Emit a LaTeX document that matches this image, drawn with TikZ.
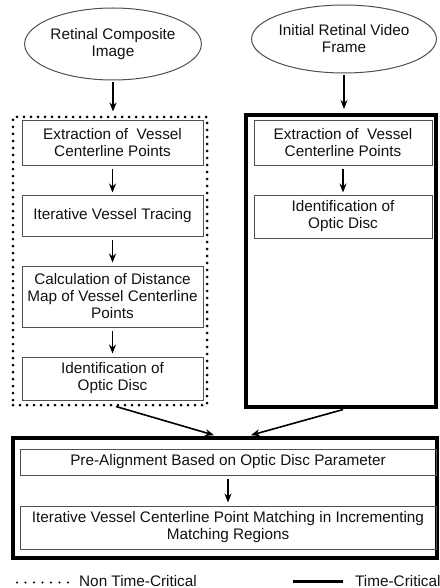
\documentclass[tikz,border=0pt]{standalone}
\usepackage{fontspec}
\setmainfont{Liberation Sans}
\usetikzlibrary{arrows.meta,shapes.geometric}
\definecolor{boxline}{HTML}{505050}
\definecolor{txt}{HTML}{111111}
\tikzset{
  procbox/.style={draw=boxline, line width=1pt, rectangle, align=center, inner sep=0pt,
    font=\fontsize{15.3}{17}\selectfont, text=txt},
  inputell/.style={draw=boxline, line width=1pt, ellipse, align=center, inner sep=0pt,
    font=\fontsize{15.3}{17}\selectfont, text=txt},
  dotframe/.style={draw=black, line width=3pt, line cap=round, dash pattern=on 0pt off 7pt, rectangle, inner sep=0pt},
  thickframe/.style={draw=black, line width=4pt, rectangle, inner sep=0pt},
  flow/.style={-{Stealth[length=9pt,width=7pt]}, line width=1.6pt, black},
  legtext/.style={font=\fontsize{15.3}{17}\selectfont, text=txt, anchor=base west, inner sep=0pt}
}
\begin{document}
\begin{tikzpicture}[x=1pt,y=-1pt]
\useasboundingbox (0,0) rectangle (439,588);
% input ellipses
\node[inputell, minimum width=174, minimum height=72] (le) at (113,44) {Retinal Composite\\Image};
\node[inputell, minimum width=176, minimum height=68] (re) at (344,39) {Initial Retinal Video\\Frame};
% containers
\node[dotframe, minimum width=194, minimum height=288] (lc) at (110,261) {};
\node[thickframe, minimum width=190, minimum height=292] (rc) at (341,261) {};
\node[thickframe, minimum width=424, minimum height=120] (bc) at (225,498) {};
% left column
\node[procbox, minimum width=181, minimum height=44] (l1) at (112.5,143) {Extraction of~ Vessel\\Centerline Points};
\node[procbox, minimum width=181, minimum height=41] (l2) at (112.5,215.5) {Iterative Vessel Tracing};
\node[procbox, minimum width=181, minimum height=61] (l3) at (112.5,296.5) {Calculation of Distance\\Map of Vessel Centerline\\Points};
\node[procbox, minimum width=181, minimum height=43] (l4) at (112.5,378.5) {Identification of\\Optic Disc};
% right column
\node[procbox, minimum width=178, minimum height=44] (r1) at (343,143) {Extraction of~ Vessel\\Centerline Points};
\node[procbox, minimum width=178, minimum height=43] (r2) at (343,216.5) {Identification of\\Optic Disc};
% bottom
\node[procbox, minimum width=416, minimum height=26] (p) at (228,462) {Pre-Alignment Based on Optic Disc Parameter};
\node[procbox, minimum width=416, minimum height=43] (m) at (228,527.5) {Iterative Vessel Centerline Point Matching in Incrementing\\Matching Regions};
% arrows
\draw[flow, shorten <=2pt, shorten >=4pt] (le.south) -- (le.south |- lc.north);
\draw[flow, shorten <=2pt, shorten >=4pt] (re.south) -- (re.south |- rc.north);
\draw[flow, shorten <=3pt, shorten >=2pt] (l1) -- (l2);
\draw[flow, shorten <=3pt, shorten >=3pt] (l2) -- (l3);
\draw[flow, shorten <=3pt, shorten >=3pt] (l3) -- (l4);
\draw[flow, shorten <=3pt, shorten >=2pt] (r1) -- (r2);
\draw[flow, shorten <=3pt, shorten >=3pt] (p) -- (m);
\draw[flow, shorten >=3pt] ([xshift=6pt]lc.south) -- ([xshift=-8pt]bc.north);
\draw[flow, shorten <=2pt, shorten >=3pt] ([xshift=4pt]rc.south) -- ([xshift=23pt]bc.north);
% legend
\coordinate (d1) at (17,582.5);
\coordinate (d2) at (68,582.5);
\draw[line width=2.4pt, line cap=round, dash pattern=on 0pt off 8.5pt] (d1) -- (d2);
\node[legtext] (nt) at (79,586) {Non Time-Critical};
\coordinate (s1) at (293,581);
\coordinate (s2) at (343,581);
\draw[line width=3pt] (s1) -- (s2);
\node[legtext] (tc) at (355,586) {Time-Critical};
\end{tikzpicture}
\end{document}
